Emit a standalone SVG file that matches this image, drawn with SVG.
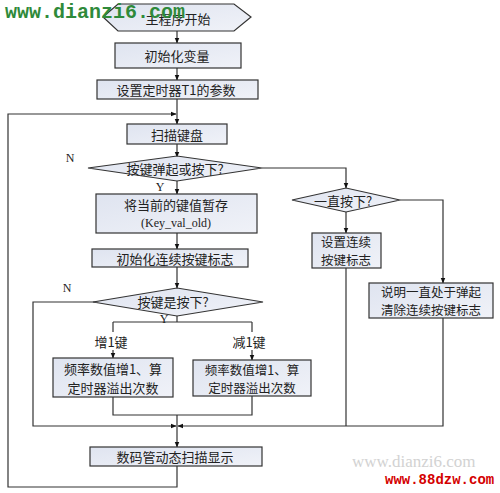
<svg xmlns="http://www.w3.org/2000/svg" width="500" height="493" viewBox="0 0 500 493">
<defs>
<linearGradient id="g" x1="0" y1="0" x2="1" y2="1">
<stop offset="0" stop-color="#dfe4f0"/>
<stop offset="1" stop-color="#f0f2f8"/>
</linearGradient>
<marker id="a" viewBox="0 0 10 10" refX="9" refY="5" markerWidth="6" markerHeight="6" orient="auto" markerUnits="userSpaceOnUse">
<path d="M0,1 L10,5 L0,9 Z" fill="#111"/>
</marker>
</defs>
<style>
.n{fill:url(#g);stroke:#333;stroke-width:1.2}
.t{font-family:"Noto Sans CJK SC","Liberation Sans",sans-serif;font-size:13px;fill:#222;text-anchor:middle;dominant-baseline:central}
.t2{font-size:12.5px}
.s{font-family:"Liberation Serif",serif;font-size:12px;fill:#222;text-anchor:middle;dominant-baseline:central}
.c{fill:none;stroke:#333;stroke-width:1.2}
.ar{marker-end:url(#a)}
</style>
<rect width="500" height="493" fill="#fff"/>
<g id="connectors">
<path class="c ar" d="M177,31 V43"/>
<path class="c ar" d="M177,68 V80"/>
<path class="c ar" d="M177,99 V124"/>
<path class="c ar" d="M177,466 V487 H8 V114 H176"/>
<path class="c ar" d="M177,144 V157"/>
<path class="c ar" d="M177,180 V194"/>
<path class="c ar" d="M262,168 H346 V188"/>
<path class="c ar" d="M346,212 V233"/>
<path class="c ar" d="M400,200 H443 V283"/>
<path class="c" d="M346,268 V426"/>
<path class="c ar" d="M443,318 V426 H178"/>
<path class="c ar" d="M177,233 V249"/>
<path class="c ar" d="M177,267 V288"/>
<path class="c ar" d="M100,302 H33 V426 H176"/>
<path class="c" d="M177,316 V322 M113,322 H252"/>
<path class="c" d="M113,322 V332"/>
<path class="c ar" d="M113,350 V358"/>
<path class="c" d="M252,322 V332"/>
<path class="c ar" d="M252,350 V360"/>
<path class="c" d="M113,397 V415 H252 V396"/>
<path class="c ar" d="M177,415 V447"/>
</g>
<g id="start">
<polygon class="n" points="103,17 118,4 234,4 251,17 234,31 118,31"/>
<text class="t" x="178" y="18">主程序开始</text>
</g>
<g id="init">
<rect class="n" x="115" y="43" width="126" height="25"/>
<text class="t" x="177" y="55">初始化变量</text>
</g>
<g id="timer">
<rect class="n" x="97" y="80" width="161" height="19"/>
<text class="t" x="176" y="89.5">设置定时器T1的参数</text>
</g>
<g id="scan">
<rect class="n" x="127" y="124" width="100" height="20"/>
<text class="t" x="177" y="134">扫描键盘</text>
</g>
<g id="d1">
<polygon class="n" points="88,168 177,156 262,168 177,181"/>
<text class="t" x="175" y="168">按键弹起或按下?</text>
<text class="s" x="70" y="158">N</text>
<text class="s" x="160" y="187">Y</text>
</g>
<g id="save">
<rect class="n" x="96" y="194" width="161" height="39"/>
<text class="t" x="176" y="204.5">将当前的键值暂存</text>
<text class="s" x="176" y="222.5" font-size="13">(Key_val_old)</text>
</g>
<g id="initflag">
<rect class="n" x="92" y="249" width="156" height="18"/>
<text class="t" x="175" y="258">初始化连续按键标志</text>
</g>
<g id="d2">
<polygon class="n" points="292,200 346,188 400,200 346,212"/>
<text class="t" x="343" y="200">一直按下?</text>
</g>
<g id="setflag">
<rect class="n" x="312" y="233" width="69" height="35"/>
<text class="t t2" x="346" y="241.5">设置连续</text>
<text class="t t2" x="346" y="259.5">按键标志</text>
</g>
<g id="clear">
<rect class="n" x="369" y="283" width="124" height="35"/>
<text class="t t2" x="431" y="291.5">说明一直处于弹起</text>
<text class="t t2" x="431" y="309.5">清除连续按键标志</text>
</g>
<g id="d3">
<polygon class="n" points="93,302 177,288 263,302 177,316"/>
<text class="t" x="173" y="301">按键是按下?</text>
<text class="s" x="67" y="288">N</text>
<text class="s" x="164" y="319">Y</text>
</g>
<text class="t" x="111" y="341">增1键</text>
<text class="t" x="249" y="341">减1键</text>
<g id="inc">
<rect class="n" x="53" y="358" width="120" height="39"/>
<text class="t" x="113" y="368">频率数值增1、算</text>
<text class="t" x="113" y="387">定时器溢出次数</text>
</g>
<g id="dec">
<rect class="n" x="193" y="360" width="118" height="36"/>
<text class="t t2" x="252" y="369">频率数值增1、算</text>
<text class="t t2" x="252" y="387">定时器溢出次数</text>
</g>
<g id="display">
<rect class="n" x="90" y="447" width="172" height="19"/>
<text class="t" x="175" y="456.5">数码管动态扫描显示</text>
</g>
<text x="5" y="18" font-family="Liberation Mono,monospace" font-weight="bold" font-size="20" fill="#2f8a3a">www.dianzi6.com</text>
<text x="352" y="467" font-family="Liberation Serif,serif" font-size="17" fill="#c8c8c8" opacity="0.8">www.dianzi6.com</text>
<text x="385" y="484" font-family="Liberation Mono,monospace" font-weight="bold" font-size="14" fill="#d40000">www.88dzw.com</text>
</svg>
